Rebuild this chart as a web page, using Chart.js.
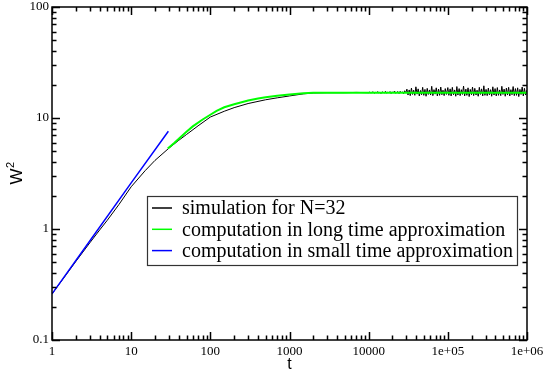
<!DOCTYPE html>
<html>
<head>
<meta charset="utf-8">
<script src="https://cdn.jsdelivr.net/npm/chart.js@4/dist/chart.umd.min.js"></script>
<style>
  html, body { margin: 0; padding: 0; background: #fff; }
  #wrap { width: 545px; height: 371px; }
</style>
</head>
<body>
<div id="wrap"><canvas id="chart" width="545" height="371"></canvas></div>
<script>
/* W^2 vs t, log-log, simulation vs two approximations */

const seriesNames = [
  "simulation for N=32",
  "computation in long time approximation",
  "computation in small time approximation",
];
const seriesColors = ["#000000", "#00ff00", "#0000ff"];

// axis ticks
const xMajor = [1, 10, 100, 1000, 1e4, 1e5, 1e6];
const xLabels = ["1", "10", "100", "1000", "10000", "1e+05", "1e+06"];
const yMajor = [0.1, 1, 10, 100];
const yLabels = ["0.1", "1", "10", "100"];

// simulation (black): smooth rise, then a noisy plateau
const simT = [
  1, 1.5, 2, 3, 4, 5, 7, 10, 15, 20, 30, 40, 50, 70, 100, 150, 200, 300, 500, 700,
  1000, 1500, 2000, 3000, 5000, 7000,
  1.0e4, 1.03e4, 1.07e4, 1.1e4, 1.14e4, 1.18e4, 1.22e4, 1.26e4, 1.3e4, 1.34e4,
  1.39e4, 1.43e4, 1.48e4, 1.53e4, 1.58e4, 1.63e4, 1.69e4, 1.74e4, 1.8e4, 1.86e4,
  1.92e4, 1.99e4, 2.05e4, 2.12e4, 2.19e4, 2.27e4, 2.34e4, 2.42e4, 2.5e4, 2.58e4,
  2.67e4, 2.76e4, 2.85e4, 2.94e4, 3.04e4, 3.14e4, 3.25e4, 3.35e4, 3.47e4, 3.58e4,
  3.7e4, 3.83e4, 3.95e4, 4.09e4, 4.22e4, 4.36e4, 4.51e4, 4.66e4, 4.81e4, 4.97e4,
  5.14e4, 5.31e4, 5.49e4, 5.67e4, 5.86e4, 6.06e4, 6.26e4, 6.47e4, 6.68e4, 6.91e4,
  7.14e4, 7.37e4, 7.62e4, 7.87e4, 8.14e4, 8.41e4, 8.69e4, 8.98e4, 9.28e4, 9.59e4,
  1.0e5, 1.03e5, 1.07e5, 1.1e5, 1.14e5, 1.18e5, 1.22e5, 1.26e5, 1.3e5, 1.34e5,
  1.39e5, 1.43e5, 1.48e5, 1.53e5, 1.58e5, 1.63e5, 1.69e5, 1.74e5, 1.8e5, 1.86e5,
  1.92e5, 1.99e5, 2.05e5, 2.12e5, 2.19e5, 2.27e5, 2.34e5, 2.42e5, 2.5e5, 2.58e5,
  2.67e5, 2.76e5, 2.85e5, 2.94e5, 3.04e5, 3.14e5, 3.25e5, 3.35e5, 3.47e5, 3.58e5,
  3.7e5, 3.83e5, 3.95e5, 4.09e5, 4.22e5, 4.36e5, 4.51e5, 4.66e5, 4.81e5, 4.97e5,
  5.14e5, 5.31e5, 5.49e5, 5.67e5, 5.86e5, 6.06e5, 6.26e5, 6.47e5, 6.68e5, 6.91e5,
  7.14e5, 7.37e5, 7.62e5, 7.87e5, 8.14e5, 8.41e5, 8.69e5, 8.98e5, 9.28e5, 9.59e5,
  1.0e6,
];
const simW = [
  0.26, 0.385, 0.51, 0.75, 0.98, 1.2, 1.66, 2.4, 3.35, 4.15, 5.35, 6.3, 7.1, 8.5, 10.2, 11.5, 12.4, 13.5, 14.6, 15.2,
  15.8, 16.5, 16.8, 16.9, 16.9, 17.0,
  16.9, 17.1, 16.8, 17.0, 17.2, 16.7, 17.0, 16.9, 17.3, 16.8,
  17.1, 16.6, 17.2, 17.0, 16.8, 17.4, 16.7, 17.1, 16.9, 17.3,
  16.6, 17.2, 16.8, 17.5, 16.7, 17.0, 17.3, 16.6, 17.4, 16.9,
  17.2, 16.5, 17.6, 16.8, 18.2, 16.1, 17.9, 15.9, 18.6, 16.3,
  17.8, 16.0, 19.1, 16.4, 18.3, 15.8, 17.7, 16.2, 18.9, 16.0,
  18.1, 15.7, 18.5, 16.3, 17.9, 16.1, 19.3, 15.9, 18.0, 16.4,
  18.7, 15.8, 18.2, 16.0, 19.0, 16.2, 17.8, 15.9, 18.4, 16.3,
  18.8, 16.0, 18.3, 15.8, 18.9, 16.2, 17.9, 15.7, 19.2, 16.1,
  18.4, 15.9, 18.0, 16.3, 19.4, 15.8, 18.2, 16.0, 18.7, 15.6,
  18.1, 16.2, 19.0, 15.9, 18.5, 16.1, 17.8, 15.7, 18.9, 16.3,
  18.3, 15.8, 19.5, 16.0, 18.1, 15.9, 18.6, 16.2, 18.0, 15.7,
  19.1, 16.1, 18.4, 15.8, 18.8, 16.0, 17.9, 15.9, 19.3, 16.3,
  18.2, 15.7, 18.6, 16.1, 18.9, 15.8, 18.0, 16.2, 19.2, 15.9,
  18.4, 16.0, 18.7, 15.6, 18.1, 16.3, 19.0, 15.8, 18.5, 16.1,
  17.9,
];

// long time approximation (green)
const longT = [29, 35, 40, 50, 60, 80, 100, 120, 150, 200, 300, 400, 500, 700, 1000, 1500, 2000, 3000, 5000, 1e4, 1e5, 1e6];
const longW = [5.3, 5.95, 6.5, 7.5, 8.4, 9.7, 10.7, 11.6, 12.5, 13.3, 14.4, 15.0, 15.35, 15.9, 16.3, 16.75, 16.85, 16.9, 16.9, 16.9, 16.9, 16.9];

// small time approximation (blue), straight on log-log
const shortT = [1, 3, 10, 29.5];
const shortW = [0.26, 0.78, 2.6, 7.6];

const pts = (xs, ys) => xs.map((x, i) => ({ x, y: ys[i] }));

const SERIF = "Liberation Serif";
const SANS = "Liberation Sans";

Chart.defaults.font.family = SERIF;
Chart.defaults.font.size = 13;
Chart.defaults.color = "#000";

/* inward ticks on all four sides, frame, axis titles, legend box */
const decor = {
  id: "decor",
  afterDatasetsDraw(chart) {
    const { ctx, chartArea: a, scales } = chart;
    const xs = scales.x, ys = scales.y;
    ctx.save();
    ctx.strokeStyle = "#000";
    ctx.lineWidth = 1.5;

    const tick = (vals, scale, horiz, len) => {
      vals.forEach(v => {
        const p = Math.round(scale.getPixelForValue(v)) + 0.5;
        ctx.beginPath();
        if (horiz) {
          ctx.moveTo(p, a.bottom); ctx.lineTo(p, a.bottom - len);
          ctx.moveTo(p, a.top); ctx.lineTo(p, a.top + len);
        } else {
          ctx.moveTo(a.left, p); ctx.lineTo(a.left + len, p);
          ctx.moveTo(a.right, p); ctx.lineTo(a.right - len, p);
        }
        ctx.stroke();
      });
    };
    const minors = (majors) => {
      const out = [];
      majors.slice(0, -1).forEach(m => { for (let k = 2; k <= 9; k++) out.push(m * k); });
      return out;
    };
    tick(xMajor, xs, true, 8);
    tick(minors(xMajor), xs, true, 4.5);
    tick(yMajor, ys, false, 8);
    tick(minors(yMajor), ys, false, 4.5);

    ctx.strokeRect(a.left, a.top, a.right - a.left, a.bottom - a.top);

    // x title
    ctx.fillStyle = "#000";
    ctx.font = "16px '" + SANS + "'";
    ctx.textAlign = "center";
    ctx.textBaseline = "alphabetic";
    ctx.fillText("t", (a.left + a.right) / 2, 369);

    // y title W^2, rotated
    ctx.save();
    ctx.translate(22, (a.top + a.bottom) / 2);
    ctx.rotate(-Math.PI / 2);
    ctx.font = "17px '" + SANS + "'";
    const wW = ctx.measureText("W").width;
    ctx.font = "11px '" + SANS + "'";
    const w2 = ctx.measureText("2").width;
    const x0 = -(wW + w2) / 2;
    ctx.textAlign = "left";
    ctx.font = "17px '" + SANS + "'";
    ctx.fillText("W", x0, 0);
    ctx.font = "11px '" + SANS + "'";
    ctx.fillText("2", x0 + wW + 0.5, -8);
    ctx.restore();

    // legend
    const bx = 147, by = 196, bw = 370, bh = 69;
    ctx.fillStyle = "#fff";
    ctx.fillRect(bx, by, bw, bh);
    ctx.strokeStyle = "#333";
    ctx.lineWidth = 1.2;
    ctx.strokeRect(bx + 0.5, by + 0.5, bw, bh);
    ctx.font = "20px '" + SERIF + "'";
    ctx.textBaseline = "middle";
    ctx.textAlign = "left";
    chart.data.datasets.forEach((ds, i) => {
      const yy = by + 12 + i * 21.3;
      ctx.strokeStyle = ds.borderColor;
      ctx.lineWidth = 1.5;
      ctx.beginPath();
      ctx.moveTo(bx + 5, yy); ctx.lineTo(bx + 25, yy);
      ctx.stroke();
      ctx.fillStyle = "#000";
      ctx.fillText(ds.label, bx + 35, yy + 1);
    });
    ctx.restore();
  },
};

const axisFont = { family: SERIF, size: 13, lineHeight: 1.1 };

new Chart(document.getElementById("chart").getContext("2d"), {
  type: "line",
  data: {
    datasets: [
      { label: seriesNames[0], data: pts(simT, simW), borderColor: seriesColors[0], borderWidth: 1, order: 2 },
      { label: seriesNames[1], data: pts(longT, longW), borderColor: seriesColors[1], borderWidth: 2, order: 1 },
      { label: seriesNames[2], data: pts(shortT, shortW), borderColor: seriesColors[2], borderWidth: 1.5, order: 0 },
    ],
  },
  options: {
    responsive: false,
    animation: false,
    events: [],
    layout: { padding: { top: 7, right: 18, left: 0, bottom: 0 } },
    elements: { point: { radius: 0 }, line: { tension: 0, fill: false } },
    plugins: { legend: { display: false }, tooltip: { enabled: false } },
    scales: {
      x: {
        type: "logarithmic",
        min: 1, max: 1e6,
        grid: { display: false, drawTicks: false },
        border: { display: false },
        afterBuildTicks: s => { s.ticks = xMajor.map(v => ({ value: v })); },
        afterFit: s => { s.height = 31; s.paddingLeft = 0; s.paddingRight = 0; },
        ticks: {
          autoSkip: false, maxRotation: 0, padding: 4, color: "#000", font: axisFont,
          callback: (v, i) => xLabels[i],
        },
      },
      y: {
        type: "logarithmic",
        min: 0.1, max: 100,
        grid: { display: false, drawTicks: false },
        border: { display: false },
        afterBuildTicks: s => { s.ticks = yMajor.map(v => ({ value: v })); },
        afterFit: s => { s.width = 52; s.paddingTop = 0; s.paddingBottom = 0; },
        ticks: {
          autoSkip: false, padding: 3, color: "#000", font: axisFont,
          callback: (v, i) => yLabels[i],
        },
      },
    },
  },
  plugins: [decor],
});
</script>
</body>
</html>
